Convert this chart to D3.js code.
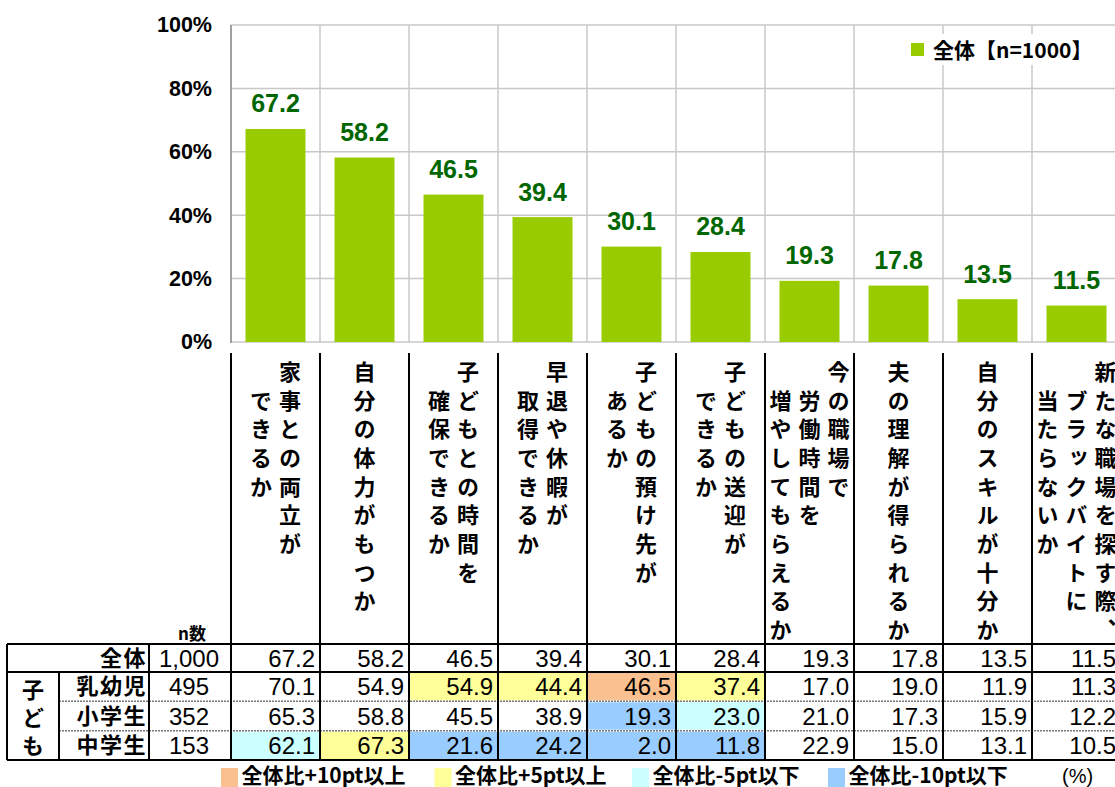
<!DOCTYPE html>
<html><head><meta charset="utf-8">
<script src="https://cdn.jsdelivr.net/npm/d3@7"></script>
<style>
body{margin:0;background:#fff;}
svg{display:block;}
</style>
</head><body>
<svg id="chart" width="1115" height="787"></svg>
<script>
// ---------- data ----------
const categories = ["c1","c2","c3","c4","c5","c6","c7","c8","c9","c10"];
const labelLines = [
  ["家事との両立が","できるか"],
  ["自分の体力がもつか"],
  ["子どもとの時間を","確保できるか"],
  ["早退や休暇が","取得できるか"],
  ["子どもの預け先が","あるか"],
  ["子どもの送迎が","できるか"],
  ["今の職場で","労働時間を","増やしてもらえるか"],
  ["夫の理解が得られるか"],
  ["自分のスキルが十分か"],
  ["新たな職場を探す際、","ブラックバイトに","当たらないか"]
];
const overall    = [67.2, 58.2, 46.5, 39.4, 30.1, 28.4, 19.3, 17.8, 13.5, 11.5];
const infant     = [70.1, 54.9, 54.9, 44.4, 46.5, 37.4, 17.0, 19.0, 11.9, 11.3];
const elementary = [65.3, 58.8, 45.5, 38.9, 19.3, 23.0, 21.0, 17.3, 15.9, 12.2];
const juniorHigh = [62.1, 67.3, 21.6, 24.2, 2.0, 11.8, 22.9, 15.0, 13.1, 10.5];
const groupNames = ["乳幼児","小学生","中学生"];
const groupN = ["495","352","153"];
const overallName = "全体";
const overallN = "1,000";
const childLabel = "子ども";
const yTicks = [0,20,40,60,80,100];
const seriesLegend = "全体【n=1000】";
const cellLegend = ["全体比+10pt以上","全体比+5pt以上","全体比-5pt以下","全体比-10pt以下"];
const unitLabel = "(%)";

// ---------- styles ----------
const BAR = "#99cc00", LBL = "#006600", GRID = "#c8c8c8";
const cellColors = ["#fac090","#ffff99","#ccffff","#99ccff"];
const JP = "'Noto Sans CJK JP', sans-serif";
const LAT = "'Liberation Sans', Arial, sans-serif";

const svg = d3.select("#chart");
const x = d3.scaleBand().domain(categories).range([231, 1121]).paddingInner(0.326).paddingOuter(0.163);
const y = d3.scaleLinear().domain([0,100]).range([342, 25]);
const step = x.step();
const colLeft = (i) => x.range()[0] + i*step;

// gridlines
svg.append("g").selectAll("line").data(yTicks).join("line")
  .attr("x1", 231).attr("x2", 1115).attr("y1", d=>y(d)).attr("y2", d=>y(d))
  .attr("stroke", GRID).attr("stroke-width", 1.5);
svg.append("g").selectAll("line").data(d3.range(1, categories.length+1)).join("line")
  .attr("x1", d=>colLeft(d)).attr("x2", d=>colLeft(d)).attr("y1", y(100)).attr("y2", y(0))
  .attr("stroke", GRID).attr("stroke-width", 1.5);
svg.append("line").attr("x1",231).attr("x2",231).attr("y1",y(100)).attr("y2",y(0)+1)
  .attr("stroke","#a0a0a0").attr("stroke-width",2);

// y axis
const ya = svg.append("g").attr("transform","translate(231,0)")
  .call(d3.axisLeft(y).tickValues(yTicks).tickSize(0).tickPadding(19).tickFormat(d=>d+"%"));
ya.select(".domain").remove();
ya.selectAll("text").attr("font-family", LAT).attr("font-size", 21.5).attr("font-weight","bold").attr("fill","#000");

// bars
svg.append("g").selectAll("rect").data(overall).join("rect")
  .attr("x",(d,i)=>x(categories[i])).attr("width",x.bandwidth())
  .attr("y",d=>y(d)).attr("height",d=>y(0)-y(d)).attr("fill",BAR);
svg.append("g").selectAll("text").data(overall).join("text")
  .attr("x",(d,i)=>x(categories[i])+x.bandwidth()/2).attr("y",d=>y(d)-16.5)
  .attr("text-anchor","middle").attr("font-family",LAT).attr("font-weight","bold")
  .attr("font-size",25).attr("fill",LBL).text(d=>d3.format(".1f")(d));

// top legend
svg.append("rect").attr("x",903).attr("y",34).attr("width",200).attr("height",31).attr("fill","#fff");
svg.append("rect").attr("x",911).attr("y",43).attr("width",13).attr("height",13).attr("fill",BAR);
svg.append("text").attr("x",933).attr("y",57.5).attr("font-family",JP).attr("font-weight","bold")
  .attr("font-size",21).attr("fill","#000").text(seriesLegend);

// category labels (vertical)
const rowStep = 28.7, lineStep = 29;
const lblG = svg.append("g");
labelLines.forEach((lines, i) => {
  const cx = x(categories[i]) + x.bandwidth()/2;
  const n = lines.length;
  lines.forEach((t, j) => {
    lblG.append("text")
      .attr("x", cx + ((n-1)/2 - j)*lineStep)
      .attr("y", 360.5 + (j===0?0:1)*rowStep)
      .style("writing-mode","vertical-rl")
      .attr("font-family",JP).attr("font-weight","bold").attr("font-size",22)
      .attr("letter-spacing", (rowStep-22)+"px")
      .attr("fill","#000").text(t);
  });
});

// table geometry
const rowsY = [644, 672, 701.3, 730.7, 760];
const tableRows = [overall, infant, elementary, juniorHigh];
const cellClass = (v, base) => {
  const d = +(v - base).toFixed(1);
  if (d >= 10) return cellColors[0];
  if (d >= 5) return cellColors[1];
  if (d <= -10) return cellColors[3];
  if (d <= -5) return cellColors[2];
  return null;
};
// fills
const fillG = svg.append("g");
[infant, elementary, juniorHigh].forEach((row, r) => {
  row.forEach((v, i) => {
    const c = cellClass(v, overall[i]);
    if (c) fillG.append("rect").attr("x", colLeft(i)+1).attr("width", step-2)
      .attr("y", rowsY[r+1]+1).attr("height", rowsY[r+2]-rowsY[r+1]-2).attr("fill", c);
  });
});
// values
const valG = svg.append("g");
tableRows.forEach((row, r) => {
  valG.selectAll(null).data(row).join("text")
    .attr("x",(d,i)=>colLeft(i)+step-5).attr("y",(rowsY[r]+rowsY[r+1])/2+8.5)
    .attr("text-anchor","end").attr("font-family",LAT).attr("font-size",24).attr("fill","#000")
    .text(d=>d3.format(".1f")(d));
});
// row headers
const hdrG = svg.append("g");
[overallName].concat(groupNames).forEach((t, r) => {
  hdrG.append("text").attr("x",147).attr("y",(rowsY[r]+rowsY[r+1])/2+7.5)
    .attr("text-anchor","end").attr("font-family",JP).attr("font-weight","bold")
    .attr("font-size",22).attr("letter-spacing","1.5px").attr("fill","#000").text(t);
});
[overallN].concat(groupN).forEach((t, r) => {
  hdrG.append("text").attr("x",189).attr("y",(rowsY[r]+rowsY[r+1])/2+8.5)
    .attr("text-anchor","middle").attr("font-family",LAT).attr("font-size",24).attr("fill","#000").text(t);
});
hdrG.append("text").attr("x",192).attr("y",640).attr("text-anchor","middle")
  .attr("font-family",JP).attr("font-weight","bold").attr("font-size",17).attr("fill","#000").text("n数");
hdrG.append("text").attr("x",33).attr("y",678.5).style("writing-mode","vertical-rl")
  .attr("font-family",JP).attr("font-weight","bold").attr("font-size",22)
  .attr("letter-spacing","6px").attr("fill","#000").text(childLabel);

// table lines
const lineG = svg.append("g").attr("stroke","#000").attr("stroke-width",2);
[644, 672, 760].forEach(yy => lineG.append("line").attr("x1",7).attr("x2",1115).attr("y1",yy).attr("y2",yy));
[701.3, 730.7].forEach(yy => lineG.append("line").attr("x1",59).attr("x2",1115).attr("y1",yy).attr("y2",yy)
  .attr("stroke","#777").attr("stroke-width",1.5).attr("stroke-dasharray","2,1"));
lineG.append("line").attr("x1",7).attr("x2",7).attr("y1",644).attr("y2",760);
lineG.append("line").attr("x1",59).attr("x2",59).attr("y1",672).attr("y2",760);
lineG.append("line").attr("x1",149).attr("x2",149).attr("y1",644).attr("y2",760);
d3.range(0, categories.length+1).forEach(i => lineG.append("line")
  .attr("x1",colLeft(i)).attr("x2",colLeft(i)).attr("y1",353).attr("y2",760));

// bottom legend
const legX = [221, 434.5, 632, 828];
const lg = svg.append("g");
cellLegend.forEach((t, k) => {
  lg.append("rect").attr("x",legX[k]).attr("y",768).attr("width",17).attr("height",19).attr("fill",cellColors[k]);
  lg.append("text").attr("x",legX[k]+20.5).attr("y",783).attr("font-family",JP).attr("font-weight","bold")
    .attr("font-size",21).attr("fill","#000").text(t);
});
lg.append("text").attr("x",1062).attr("y",783).attr("font-family",LAT).attr("font-size",20).attr("fill","#000").text(unitLabel);
</script>
</body></html>
